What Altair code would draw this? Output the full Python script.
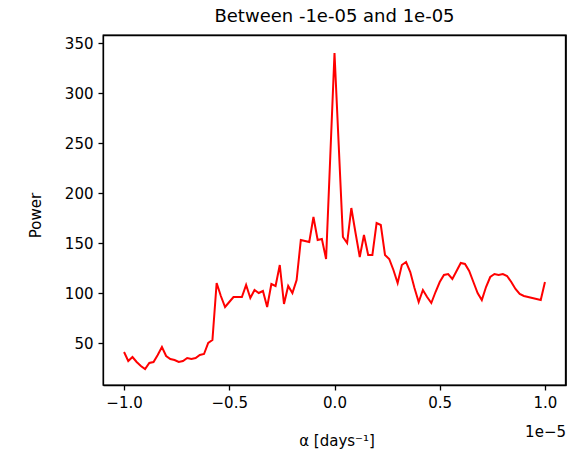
import altair as alt
import numpy as np
import pandas as pd

# alpha grid (days^-1), 101 evenly spaced samples between -1e-5 and 1e-5
alpha = np.linspace(-1e-5, 1e-5, 101)

power = [
    41, 32, 36, 31, 27, 24, 30, 31, 38, 46,
    37, 34, 33, 31, 32, 35, 34, 35, 38, 39,
    50, 53, 110, 97, 86, 91, 96, 96, 96, 108,
    95, 103, 100, 102, 86, 109, 107, 128, 89, 107,
    100, 113, 153, 152, 151, 176, 153, 154, 134, 237,
    340, 248, 156, 150, 185, 160, 136, 158, 138, 138,
    170, 168, 138, 134, 123, 110, 128, 131, 121, 105,
    91, 103, 96, 90, 101, 111, 118, 119, 114, 122,
    130, 129, 122, 111, 100, 93, 106, 116, 119, 118,
    119, 117, 111, 104, 99, 97, 96, 95, 94, 93,
    111,
]

x_ticks = [-1e-5, -0.5e-5, 0.0, 0.5e-5, 1e-5]
y_ticks = [50, 100, 150, 200, 250, 300, 350]
x_domain = [-1.1e-5, 1.1e-5]
y_domain = [8, 358]
title_text = "Between -1e-05 and 1e-05"
x_title = "α [days⁻¹]"
y_title = "Power"
offset_text = "1e−5"

df = pd.DataFrame({"alpha": alpha, "power": power})

FONT = "DejaVu Sans"
W, H = 463, 350
LBL = 15
SPINE = 1.3
x_scale = alt.Scale(domain=x_domain, nice=False, zero=False)
y_scale = alt.Scale(domain=y_domain, nice=False, zero=False)

x_enc = alt.X(
    "alpha:Q",
    scale=x_scale,
    axis=alt.Axis(
        values=x_ticks,
        labelExpr="format(datum.value * 1e5, '.1f')",
        title=x_title,
        titleFont=FONT,
        titleFontSize=LBL,
        titleFontWeight="normal",
        titleColor="black",
        titleX=W / 2 + 2,
        titleY=55,
        titleBaseline="middle",
        titleAlign="center",
        labelFont=FONT,
        labelFontSize=LBL,
        labelColor="black",
        labelPadding=5,
        tickSize=5,
        tickColor="black",
        tickWidth=SPINE,
        domainColor="black",
        domainWidth=SPINE,
        grid=False,
        labelFlush=False,
    ),
)

y_enc = alt.Y(
    "power:Q",
    scale=y_scale,
    axis=alt.Axis(
        values=y_ticks,
        title=y_title,
        titleFont=FONT,
        titleFontSize=LBL,
        titleFontWeight="normal",
        titleColor="black",
        titleX=-68,
        titleY=H / 2 + 5,
        titleAngle=-90,
        titleBaseline="middle",
        titleAlign="center",
        labelFont=FONT,
        labelFontSize=LBL,
        labelColor="black",
        labelPadding=5,
        tickSize=5,
        tickColor="black",
        tickWidth=SPINE,
        domainColor="black",
        domainWidth=SPINE,
        grid=False,
        labelFlush=False,
    ),
)

line = alt.Chart(df).mark_line(color="#ff0000", strokeWidth=2).encode(x=x_enc, y=y_enc)

# top and right spines of the axes frame
top_spine = alt.Chart(df.head(1)).mark_rule(color="black", strokeWidth=SPINE).encode(
    x=alt.value(0), x2=alt.value(W), y=alt.value(0.5)
)
right_spine = alt.Chart(df.head(1)).mark_rule(color="black", strokeWidth=SPINE).encode(
    x=alt.value(W - 0.5), y=alt.value(0), y2=alt.value(H)
)

offset = alt.Chart(pd.DataFrame({"t": [offset_text]})).mark_text(
    font=FONT, fontSize=LBL, align="right", baseline="middle", color="black"
).encode(
    x=alt.datum(x_domain[1]),
    y=alt.value(H + 47),
    text="t:N",
)

chart = (
    alt.layer(line, top_spine, right_spine, offset)
    .properties(
        width=W,
        height=H,
        background="white",
        title=alt.TitleParams(
            title_text, font=FONT, fontSize=18, fontWeight="normal",
            color="black", anchor="middle", offset=8,
        ),
        autosize=alt.AutoSizeParams(type="none"),
        padding={"left": 103, "top": 35, "right": 19, "bottom": 67},
    )
    .configure_view(stroke="black", strokeWidth=SPINE)
)

chart.save("out.html", embed_options={"renderer": "svg", "actions": False})
